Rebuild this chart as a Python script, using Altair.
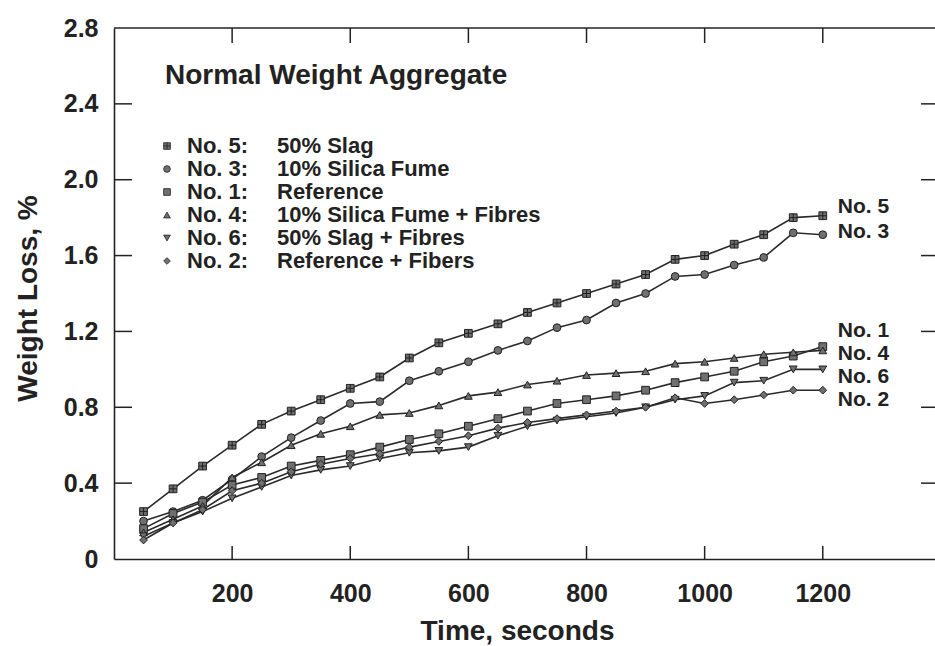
import altair as alt
import pandas as pd

# ---- data -------------------------------------------------------------
time_s = [50, 100, 150, 200, 250, 300, 350, 400, 450, 500, 550, 600,
          650, 700, 750, 800, 850, 900, 950, 1000, 1050, 1100, 1150, 1200]

series_ids = ["No. 5", "No. 3", "No. 1", "No. 4", "No. 6", "No. 2"]
series_desc = ["50% Slag", "10% Silica Fume", "Reference",
               "10% Silica Fume + Fibres", "50% Slag + Fibres",
               "Reference + Fibers"]

loss_no5 = [0.25, 0.37, 0.49, 0.60, 0.71, 0.78, 0.84, 0.90, 0.96, 1.06, 1.14, 1.19,
            1.24, 1.30, 1.35, 1.40, 1.45, 1.50, 1.58, 1.60, 1.66, 1.71, 1.80, 1.81]
loss_no3 = [0.20, 0.25, 0.31, 0.42, 0.54, 0.64, 0.73, 0.82, 0.83, 0.94, 0.99, 1.04,
            1.10, 1.15, 1.22, 1.26, 1.35, 1.40, 1.49, 1.50, 1.55, 1.59, 1.72, 1.71]
loss_no1 = [0.16, 0.24, 0.30, 0.39, 0.43, 0.49, 0.52, 0.55, 0.59, 0.63, 0.66, 0.70,
            0.74, 0.78, 0.82, 0.84, 0.86, 0.89, 0.93, 0.96, 0.99, 1.04, 1.07, 1.12]
loss_no4 = [0.14, 0.21, 0.28, 0.43, 0.51, 0.60, 0.66, 0.70, 0.76, 0.77, 0.81, 0.86,
            0.88, 0.92, 0.94, 0.97, 0.98, 0.99, 1.03, 1.04, 1.06, 1.08, 1.09, 1.10]
loss_no6 = [0.12, 0.19, 0.25, 0.32, 0.38, 0.44, 0.47, 0.49, 0.53, 0.56, 0.57, 0.59,
            0.65, 0.70, 0.73, 0.75, 0.77, 0.80, 0.84, 0.86, 0.93, 0.94, 1.00, 1.00]
loss_no2 = [0.10, 0.19, 0.26, 0.36, 0.40, 0.46, 0.50, 0.53, 0.555, 0.59, 0.62, 0.65,
            0.69, 0.72, 0.74, 0.76, 0.78, 0.80, 0.85, 0.82, 0.84, 0.865, 0.89, 0.89]

y_label_values = [0, 0.4, 0.8, 1.2, 1.6, 2.0, 2.4, 2.8]
y_tick_values = [0.4, 0.8, 1.2, 1.6, 2.0, 2.4]
x_tick_values = [200, 400, 600, 800, 1000, 1200]

# ---- styling ----------------------------------------------------------
FONT = "Liberation Sans"
INK = "#222222"
MARK_FILL = "#6f6f6f"
W, H = 821, 531

HATCH_SQUARE = "M-1,-1H1V1H-1Z M0,-1V1 M-1,0H1"
shapes = [HATCH_SQUARE, "circle", "square", "triangle-up", "triangle-down", "diamond"]
# vertical nudges for the end-of-line labels so they do not collide
label_dy = [-9, -3, -16, 4, 8, 10]

series_values = [loss_no5, loss_no3, loss_no1, loss_no4, loss_no6, loss_no2]
rows = []
for sid, vals in zip(series_ids, series_values):
    for t, v in zip(time_s, vals):
        rows.append({"series": sid, "time": t, "loss": v})
df = pd.DataFrame(rows)

x_scale = alt.Scale(domain=[0, 1390], nice=False, zero=False)
y_scale = alt.Scale(domain=[0, 2.8], nice=False)
shape_scale = alt.Scale(domain=series_ids, range=shapes)

x_axis = alt.Axis(
    values=x_tick_values, format="d", ticks=False, tickSize=0, grid=False,
    labelPadding=22, labelFont=FONT, labelFontSize=25, labelFontWeight="bold",
    labelColor=INK, domainColor=INK, domainWidth=1.6,
    title="Time, seconds", titleFont=FONT, titleFontSize=28, titleFontWeight="bold",
    titleColor=INK, titleX=403, titleY=80, titleBaseline="alphabetic", titleAlign="center",
)
y_axis = alt.Axis(
    values=y_label_values, ticks=False, tickSize=0, grid=False,
    labelExpr="datum.value == 0 ? '0' : format(datum.value, '.1f')",
    labelPadding=16, labelFont=FONT, labelFontSize=25, labelFontWeight="bold",
    labelColor=INK, domainColor=INK, domainWidth=1.6,
    title="Weight Loss, %", titleFont=FONT, titleFontSize=28, titleFontWeight="bold",
    titleColor=INK, titleX=-78, titleY=270, titleAngle=270,
    titleBaseline="alphabetic", titleAlign="center",
)

base = alt.Chart(df).encode(
    x=alt.X("time:Q", scale=x_scale, axis=x_axis),
    y=alt.Y("loss:Q", scale=y_scale, axis=y_axis),
)

lines = base.mark_line(color="#2a2a2a", strokeWidth=1.6).encode(detail="series:N")
points = base.mark_point(filled=True, fill=MARK_FILL, stroke=INK, strokeWidth=1,
                         size=60, opacity=1).encode(
    shape=alt.Shape("series:N", scale=shape_scale, legend=None)
)

layers = [lines, points]

# inward ticks on all four sides of the frame
ytick_df = pd.DataFrame({"v": y_tick_values})
xtick_df = pd.DataFrame({"t": x_tick_values})
tick_style = dict(color=INK, strokeWidth=1.5)
layers.append(alt.Chart(ytick_df).mark_rule(**tick_style).encode(
    y=alt.Y("v:Q", scale=y_scale), x=alt.value(0), x2=alt.value(18)))
layers.append(alt.Chart(ytick_df).mark_rule(**tick_style).encode(
    y=alt.Y("v:Q", scale=y_scale), x=alt.value(W - 14), x2=alt.value(W)))
layers.append(alt.Chart(xtick_df).mark_rule(**tick_style).encode(
    x=alt.X("t:Q", scale=x_scale), y=alt.value(0), y2=alt.value(15)))
layers.append(alt.Chart(xtick_df).mark_rule(**tick_style).encode(
    x=alt.X("t:Q", scale=x_scale), y=alt.value(H - 13), y2=alt.value(H)))

# top border of the frame
one = pd.DataFrame({"k": [0]})
layers.append(alt.Chart(one).mark_rule(color=INK, strokeWidth=1.6).encode(
    x=alt.value(0), x2=alt.value(W), y=alt.value(0)))

# panel heading
layers.append(alt.Chart(one).mark_text(
    text="Normal Weight Aggregate", align="left", baseline="alphabetic",
    font=FONT, fontSize=28, fontWeight="bold", color=INK,
).encode(x=alt.value(51), y=alt.value(56)))

# key in the upper-left corner
for i, (sid, desc, shp) in enumerate(zip(series_ids, series_desc, shapes)):
    yy = 118 + 23 * i
    layers.append(alt.Chart(one).mark_point(
        shape=shp, filled=True, fill=MARK_FILL, stroke=INK, strokeWidth=0.8,
        size=45, opacity=1,
    ).encode(x=alt.value(53), y=alt.value(yy)))
    layers.append(alt.Chart(one).mark_text(
        text=sid + ":", align="left", baseline="middle",
        font=FONT, fontSize=22, fontWeight="bold", color=INK,
    ).encode(x=alt.value(73), y=alt.value(yy)))
    layers.append(alt.Chart(one).mark_text(
        text=desc, align="left", baseline="middle",
        font=FONT, fontSize=22, fontWeight="bold", color=INK,
    ).encode(x=alt.value(163), y=alt.value(yy)))

# series names at the ends of the curves
last_t = time_s[-1]
for sid, dy in zip(series_ids, label_dy):
    layers.append(alt.Chart(df).transform_filter(
        (alt.datum.series == sid) & (alt.datum.time == last_t)
    ).mark_text(
        align="left", baseline="middle", dx=15, dy=dy,
        font=FONT, fontSize=21, fontWeight="bold", color=INK,
    ).encode(
        x=alt.X("time:Q", scale=x_scale),
        y=alt.Y("loss:Q", scale=y_scale),
        text="series:N",
    ))

chart = alt.layer(*layers).properties(
    width=W, height=H,
    autosize=alt.AutoSizeParams(type="none"),
    padding={"left": 114, "top": 28, "right": 0, "bottom": 87},
    background="white",
).configure_view(stroke=None)

chart.save("out.html", embed_options={"renderer": "svg", "actions": False})
